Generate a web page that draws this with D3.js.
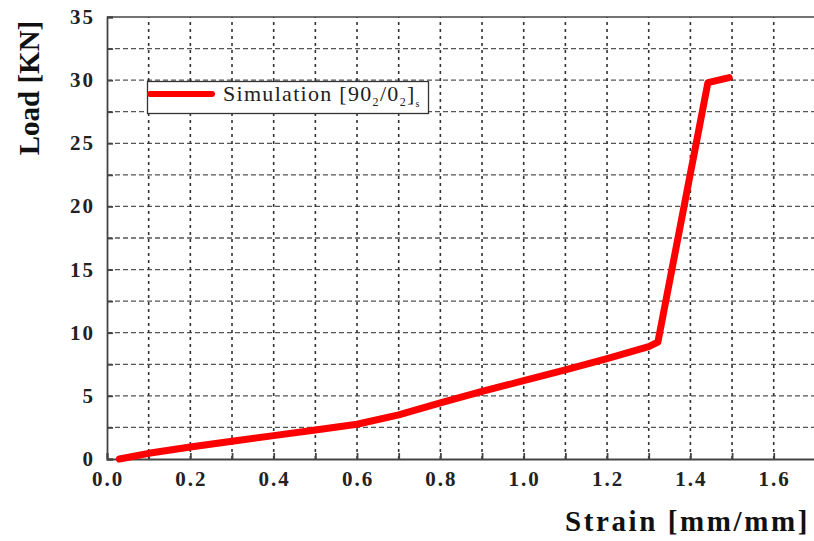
<!DOCTYPE html>
<html>
<head>
<meta charset="utf-8">
<script src="https://cdn.jsdelivr.net/npm/d3@7"></script>
<style>
  body { margin: 0; background: #fff; }
  svg { display: block; }
</style>
</head>
<body>
<script>
// values
var strain = [0.03, 0.1, 0.2, 0.3, 0.4, 0.5, 0.6, 0.7, 0.8, 0.9, 1.0, 1.1, 1.2, 1.3, 1.322, 1.442, 1.493];
var load   = [0.0, 0.45, 0.95, 1.4, 1.85, 2.3, 2.75, 3.5, 4.45, 5.35, 6.2, 7.05, 7.95, 8.9, 9.25, 29.8, 30.2];
var xTicks = [0.0, 0.2, 0.4, 0.6, 0.8, 1.0, 1.2, 1.4, 1.6];
var yTicks = [0, 5, 10, 15, 20, 25, 30, 35];
var xGrid = d3.range(1, 17).map(function (i) { return i / 10; });
var yGrid = d3.range(1, 14).map(function (i) { return i * 2.5; });

var width = 814, height = 541;
var serif = "Liberation Serif, DejaVu Serif, Times New Roman, serif";

var svg = d3.select("body").append("svg")
        .attr("width", width)
        .attr("height", height);

var x = d3.scaleLinear().domain([0, 1.7]).range([107, 815.4]);
var y = d3.scaleLinear().domain([0, 35]).range([459, 17]);

// grid
svg.append("g").selectAll("line")
        .data(yGrid)
        .enter().append("line")
        .attr("x1", x(0)).attr("x2", x(1.7))
        .attr("y1", function (d) { return y(d); })
        .attr("y2", function (d) { return y(d); })
        .attr("stroke", "#555")
        .attr("stroke-width", 1.3)
        .attr("stroke-dasharray", "5,3");

svg.append("g").selectAll("line")
        .data(xGrid)
        .enter().append("line")
        .attr("x1", function (d) { return x(d); })
        .attr("x2", function (d) { return x(d); })
        .attr("y1", y(0)).attr("y2", y(35))
        .attr("stroke", "#333")
        .attr("stroke-width", 1.6)
        .attr("stroke-dasharray", "3,4");

// frame
svg.append("line")
        .attr("x1", x(0)).attr("x2", x(1.7))
        .attr("y1", y(35)).attr("y2", y(35))
        .attr("stroke", "#444").attr("stroke-width", 1.5);

// axes with inward ticks
var xAxis = d3.axisBottom(x)
        .tickValues(d3.range(0, 17).map(function (i) { return i / 10; }))
        .tickSize(-6)
        .tickFormat("");
svg.append("g")
        .attr("transform", "translate(0," + y(0) + ")")
        .call(xAxis)
        .call(function (g) {
            g.selectAll("path, line").attr("stroke", "#444").attr("stroke-width", 1.8);
        });

var yAxis = d3.axisLeft(y)
        .tickValues(d3.range(0, 15).map(function (i) { return i * 2.5; }))
        .tickSize(-6)
        .tickFormat("");
svg.append("g")
        .attr("transform", "translate(" + x(0) + ",0)")
        .call(yAxis)
        .call(function (g) {
            g.selectAll("path, line").attr("stroke", "#444").attr("stroke-width", 1.8);
        });

// tick labels
svg.append("g").selectAll("text")
        .data(xTicks)
        .enter().append("text")
        .attr("x", function (d) { return x(d) + 1; })
        .attr("y", 486)
        .attr("text-anchor", "middle")
        .style("font-family", serif)
        .style("letter-spacing", "2px")
        .attr("font-weight", "bold")
        .attr("font-size", 21)
        .attr("fill", "#222")
        .text(function (d) { return d3.format(".1f")(d); });

svg.append("g").selectAll("text")
        .data(yTicks)
        .enter().append("text")
        .attr("x", 95)
        .attr("y", function (d) { return y(d) + 7; })
        .attr("text-anchor", "end")
        .style("font-family", serif)
        .style("letter-spacing", "2px")
        .attr("font-weight", "bold")
        .attr("font-size", 21)
        .attr("fill", "#222")
        .text(function (d) { return d; });

// axis titles
svg.append("text")
        .attr("transform", "translate(39,88) rotate(-90)")
        .attr("text-anchor", "middle")
        .style("font-family", serif)
        .attr("font-weight", "bold")
        .attr("font-size", 29)
        .attr("fill", "#111")
        .text("Load [KN]");

svg.append("text")
        .attr("x", 810)
        .attr("y", 531)
        .attr("text-anchor", "end")
        .style("font-family", serif)
        .style("letter-spacing", "2.6px")
        .attr("font-weight", "bold")
        .attr("font-size", 29)
        .attr("fill", "#111")
        .text("Strain [mm/mm]");

// curve
var line = d3.line()
        .x(function (d, i) { return x(strain[i]); })
        .y(function (d) { return y(d); });

svg.append("path")
        .datum(load)
        .attr("d", line)
        .attr("fill", "none")
        .attr("stroke", "#f00")
        .attr("stroke-width", 7)
        .attr("stroke-linejoin", "round")
        .attr("stroke-linecap", "round");

// legend
var legend = svg.append("g");
legend.append("rect")
        .attr("x", 147.5).attr("y", 81.5)
        .attr("width", 281).attr("height", 32)
        .attr("fill", "#fff")
        .attr("stroke", "#333")
        .attr("stroke-width", 1.3);
legend.append("line")
        .attr("x1", 150).attr("x2", 212)
        .attr("y1", 94).attr("y2", 94)
        .attr("stroke", "#f00")
        .attr("stroke-width", 6)
        .attr("stroke-linecap", "round");
var lt = legend.append("text")
        .attr("x", 223)
        .attr("y", 101)
        .style("font-family", serif)
        .style("letter-spacing", "1.3px")
        .attr("font-size", 22)
        .attr("fill", "#222");
lt.append("tspan").text("Simulation [90");
lt.append("tspan").attr("font-size", 12).attr("dy", 5).text("2");
lt.append("tspan").attr("dy", -5).text("/0");
lt.append("tspan").attr("font-size", 12).attr("dy", 5).text("2");
lt.append("tspan").attr("dy", -5).text("]");
lt.append("tspan").attr("font-size", 10).attr("dy", 6).text("s");
</script>
</body>
</html>
